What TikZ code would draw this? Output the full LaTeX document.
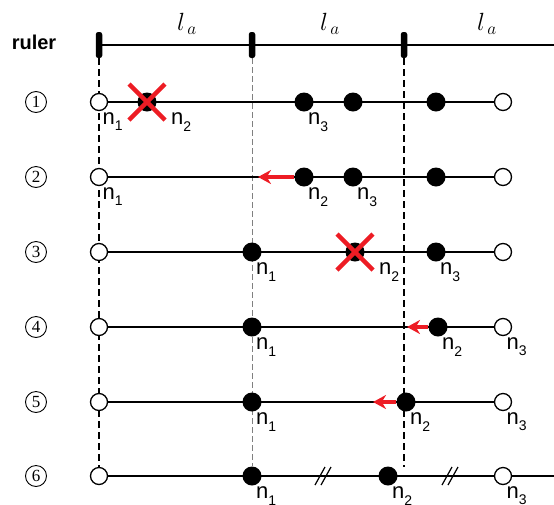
\documentclass[tikz,border=0pt]{standalone}
\usepackage{fontspec}
\setmainfont{Liberation Sans}
\newfontfamily\serifa{Liberation Serif}
\usetikzlibrary{arrows.meta,backgrounds}
\definecolor{rojo}{RGB}{237,28,36}

\newcommand{\nlab}[1]{n\raisebox{-0.28em}{\fontsize{14}{14}\selectfont #1}}

\begin{document}
\begin{tikzpicture}[
        x=1pt, y=-1pt,
        hueco/.style={circle, draw, line width=1.3pt, fill=white,
            minimum size=17pt, inner sep=0pt},
        punto/.style={circle, fill=black, minimum size=19pt, inner sep=0pt},
        marca/.style={rectangle, rounded corners=2.5pt, fill=black,
            minimum width=6.5pt, minimum height=26pt, inner sep=0pt},
        etiqueta/.style={font=\fontsize{22}{22}\selectfont, inner sep=0pt},
        abajo/.style={label={[etiqueta, anchor=north west, xshift=-3pt,
            yshift=-4pt]south east:\nlab{#1}}},
        lejos/.style={label={[etiqueta, anchor=north west, xshift=17pt,
            yshift=-4pt]south east:\nlab{#1}}},
        num/.style={circle, draw, line width=0.9pt, minimum size=21pt,
            inner sep=0pt, font=\serifa\fontsize{17}{17}\selectfont},
        regla/.style={font=\bfseries\fontsize{20}{20}\selectfont},
        longitud/.style={font=\fontsize{25}{25}\selectfont},
        linea/.style={line width=1.2pt},
        guia/.style={line width=1.6pt, dash pattern=on 7pt off 4pt},
        guiafina/.style={gray, line width=0.7pt, dash pattern=on 6pt off 3pt},
        cruz/.style={rojo, line width=4.5pt},
        flecha/.style={-{Stealth[length=13pt,width=14pt]}, rojo, line width=3.5pt}
    ]
        \useasboundingbox (0,0) rectangle (554,504);

        % regla
        \node[regla] (titulo) at (34,42) {ruler};
        \node[marca] (t1) at (99,45) {};
        \node[marca] (t2) at (252,45) {};
        \node[marca] (t3) at (404,45) {};
        \coordinate (tfin) at (554,45);
        \node[longitud] (la1) at (187,24) {$l_{\,a}$};
        \node[longitud] (la2) at (330,24) {$l_{\,a}$};
        \node[longitud] (la3) at (487,24) {$l_{\,a}$};

        % fila 1
        \node[num] (num1) at (36,102) {1};
        \node[hueco, abajo=1] (r1s) at (99,102) {};
        \node[punto, lejos=2] (r1x) at (147,102) {};
        \node[punto, abajo=3] (r1p) at (304,102) {};
        \node[punto] (r1q) at (353,102) {};
        \node[punto] (r1r) at (436,102) {};
        \node[hueco] (r1e) at (503,102) {};

        % fila 2
        \node[num] (num2) at (36,177) {2};
        \node[hueco, abajo=1] (r2s) at (99,177) {};
        \node[punto, abajo=2] (r2p) at (304,177) {};
        \node[punto, abajo=3] (r2q) at (353,177) {};
        \node[punto] (r2r) at (436,177) {};
        \node[hueco] (r2e) at (503,177) {};
        \coordinate (r2f) at (258,177);

        % fila 3
        \node[num] (num3) at (36,252) {3};
        \node[hueco] (r3s) at (99,252) {};
        \node[punto, abajo=1] (r3p) at (252,252) {};
        \node[punto, lejos=2] (r3x) at (355,252) {};
        \node[punto, abajo=3] (r3r) at (436,252) {};
        \node[hueco] (r3e) at (503,252) {};

        % fila 4
        \node[num] (num4) at (36,327) {4};
        \node[hueco] (r4s) at (99,327) {};
        \node[punto, abajo=1] (r4p) at (252,327) {};
        \node[punto, abajo=2] (r4r) at (438,327) {};
        \node[hueco, abajo=3] (r4e) at (503,327) {};
        \coordinate (r4f) at (407,327);

        % fila 5
        \node[num] (num5) at (36,402) {5};
        \node[hueco] (r5s) at (99,402) {};
        \node[punto, abajo=1] (r5p) at (252,402) {};
        \node[punto, abajo=2] (r5q) at (406,402) {};
        \node[hueco, abajo=3] (r5e) at (503,402) {};
        \coordinate (r5f) at (373,402);

        % fila 6
        \node[num] (num6) at (36,476) {6};
        \node[hueco] (r6s) at (99,476) {};
        \node[punto, abajo=1] (r6p) at (252,476) {};
        \node[punto, abajo=2] (r6q) at (388,476) {};
        \node[hueco, abajo=3] (r6e) at (503,476) {};
        \coordinate (r6fin) at (554,476);
        \coordinate (g3fin) at (404,467);

        \begin{pgfonlayer}{background}
            \draw[linea] (t1) -- (tfin);
            \draw[guia] (t1.south) -- (r6s.north);
            \draw[guiafina] (t2.south) -- (r6p.north);
            \draw[guia] (t3.south) -- (g3fin);
            \draw[linea] (r1s) -- (r1e);
            \draw[linea] (r2s) -- (r2e);
            \draw[linea] (r3s) -- (r3e);
            \draw[linea] (r4s) -- (r4e);
            \draw[linea] (r5s) -- (r5e);
            \draw[linea] (r6s) -- (r6fin);
        \end{pgfonlayer}

        % movimientos y bajas
        \draw[flecha] (r2p.west) -- (r2f);
        \draw[flecha] (r4r.west) -- (r4f);
        \draw[flecha] (r5q.west) -- (r5f);
        \draw[cruz] (r1x) +(-18,-18) -- +(18,18) (r1x) +(-18,18) -- +(18,-18);
        \draw[cruz] (r3x) +(-18,-18) -- +(18,18) (r3x) +(-18,18) -- +(18,-18);

        % cortes
        \draw[linea] (323,476) +(-8,9) -- +(2,-9) (323,476) +(-2,9) -- +(8,-9);
        \draw[linea] (450,476) +(-8,9) -- +(2,-9) (450,476) +(-2,9) -- +(8,-9);
    \end{tikzpicture}
\end{document}
